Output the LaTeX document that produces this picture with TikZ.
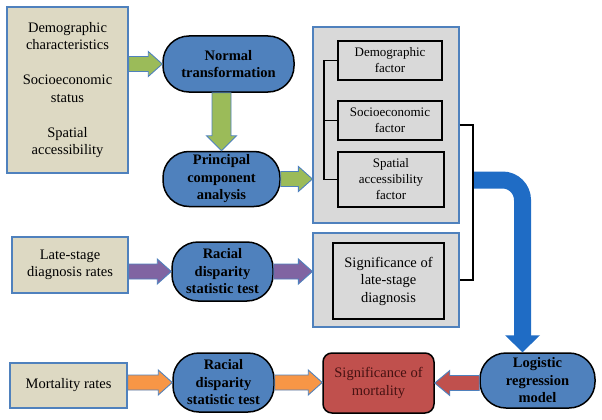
\documentclass[tikz,border=0pt]{standalone}
\usepackage{fontspec}
\setmainfont{Liberation Serif}
\usetikzlibrary{calc}
\definecolor{obeige}{HTML}{DDD9C3}
\definecolor{oblue}{HTML}{4F81BD}
\definecolor{ogray}{HTML}{D9D9D9}
\definecolor{ored}{HTML}{C0504D}
\definecolor{ogreen}{HTML}{9BBB59}
\definecolor{opurple}{HTML}{8064A2}
\definecolor{oorange}{HTML}{F79646}
\definecolor{bigblue}{RGB}{31,108,197}
\definecolor{redtext}{RGB}{70,18,18}
\newcommand\barrowh[4]{%
  \draw[#1] let \p1=(#2), \p2=(#3) in
    (\x1,\y1+7.5pt) -- (\x2-#4,\y1+7.5pt) -- (\x2-#4,\y1+12.5pt) -- (\x2,\y1)
    -- (\x2-#4,\y1-12.5pt) -- (\x2-#4,\y1-7.5pt) -- (\x1,\y1-7.5pt) -- cycle;}
\newcommand\barrowv[4]{%
  \draw[#1] let \p1=(#2), \p2=(#3) in
    (\x1-9.5pt,\y1) -- (\x1-9.5pt,\y2+#4) -- (\x1-15pt,\y2+#4) -- (\x1,\y2)
    -- (\x1+15pt,\y2+#4) -- (\x1+9.5pt,\y2+#4) -- (\x1+9.5pt,\y1) -- cycle;}
\tikzset{
  every node/.style={inner sep=0pt, align=center, font=\fontsize{14.5}{17.5}\selectfont},
  beigebox/.style={draw=oblue, fill=obeige, line width=1.2pt},
  bluenode/.style={draw=black, fill=oblue, line width=1.5pt, rounded corners=26pt, font=\fontsize{14.5}{17.5}\selectfont\bfseries},
  graybox/.style={draw=oblue, fill=ogray, line width=1.2pt},
  innerbox/.style={draw=black, fill=ogray, line width=1.8pt, font=\fontsize{13}{16}\selectfont},
  redbox/.style={draw=black, fill=ored, line width=1.5pt, rounded corners=9pt, text=redtext},
  garrow/.style={draw=oblue, fill=ogreen, line width=0.9pt},
  parrow/.style={draw=oblue, fill=opurple, line width=0.9pt},
  oarrow/.style={draw=oblue, fill=oorange, line width=0.9pt},
  rarrow/.style={draw=oblue, fill=ored, line width=0.9pt},
  bracketline/.style={draw=black, line width=1.5pt},
  bigcurve/.style={draw=bigblue, line width=17pt, rounded corners=20pt},
}
\begin{document}
\begin{tikzpicture}[x=1pt,y=-1pt]
\useasboundingbox (0,0) rectangle (602,420);
% nodes
\node[beigebox, minimum width=121pt, minimum height=166pt] (box1) at (67.5,90)
  {Demographic\\characteristics\\[17.5pt]Socioeconomic\\status\\[17.5pt]Spatial\\accessibility};
\node[bluenode, minimum width=131pt, minimum height=56pt] (norm) at (228.5,64) {Normal\\transformation};
\node[bluenode, minimum width=117pt, minimum height=55pt] (pca) at (221.5,179) {Principal\\component\\analysis};
\node[graybox, minimum width=146pt, minimum height=196pt] (gray1) at (386,125) {};
\node[innerbox, minimum width=104pt, minimum height=39pt] (demo) at (390,60.5) {Demographic\\factor};
\node[innerbox, minimum width=104pt, minimum height=39pt] (socio) at (390,120.5) {Socioeconomic\\factor};
\node[innerbox, minimum width=106pt, minimum height=55pt] (spat) at (391,179.5) {Spatial\\accessibility\\factor};
\node[graybox, minimum width=146pt, minimum height=94pt] (gray2) at (386,280) {};
\node[innerbox, minimum width=111pt, minimum height=76pt, font=\fontsize{14.5}{17.5}\selectfont] (sigl) at (388.5,281) {Significance of\\late-stage\\diagnosis};
\node[beigebox, minimum width=116pt, minimum height=56pt] (late) at (70,265) {Late-stage\\diagnosis rates};
\node[bluenode, minimum width=101pt, minimum height=59pt] (rd1) at (222.5,271.5) {Racial\\disparity\\statistic test};
\node[beigebox, minimum width=117pt, minimum height=45pt] (mort) at (68.5,385.5) {Mortality rates};
\node[bluenode, minimum width=101pt, minimum height=59pt] (rd2) at (223.5,382.5) {Racial\\disparity\\statistic test};
\node[redbox, minimum width=111pt, minimum height=60pt] (sigm) at (378.5,383) {Significance of\\mortality};
\node[bluenode, minimum width=115pt, minimum height=55pt] (logit) at (537.5,380.5) {Logistic\\regression\\model};
% bracket inside gray1
\coordinate (bx) at (324,0);
\draw[bracketline] (demo.west) -- (bx |- demo.west) -- (bx |- spat.west) -- (spat.west);
\draw[bracketline] (bx |- socio.west) -- (socio.west);
% big blue curved arrow
\coordinate (rx) at (473,0);
\coordinate (bstart) at (473,180);
\coordinate (btip) at ($(logit.north)+(-15,0)$);
\draw[bigcurve] (bstart) -- (btip |- bstart) -- ($(btip)+(0,-16)$);
\fill[bigblue] ($(btip)+(-17.5,-17)$) -- ($(btip)+(17.5,-17)$) -- (btip) -- cycle;
% right bracket
\draw[bracketline] (gray1.east) -- (rx |- gray1.east) -- (rx |- gray2.east) -- (gray2.east);
% block arrows
\barrowh{garrow}{box1.east |- norm.west}{norm.west}{14pt}
\barrowv{garrow}{pca.north |- norm.south}{pca.north}{15pt}
\barrowh{garrow}{pca.east}{gray1.west |- pca.east}{14pt}
\barrowh{parrow}{late.east |- rd1.west}{rd1.west}{14pt}
\barrowh{parrow}{rd1.east}{gray2.west |- rd1.east}{14pt}
\barrowh{oarrow}{mort.east |- rd2.west}{rd2.west}{14pt}
\barrowh{oarrow}{rd2.east}{sigm.west |- rd2.east}{14pt}
\barrowh{rarrow}{logit.west |- sigm.east}{sigm.east}{-15pt}
\end{tikzpicture}
\end{document}
